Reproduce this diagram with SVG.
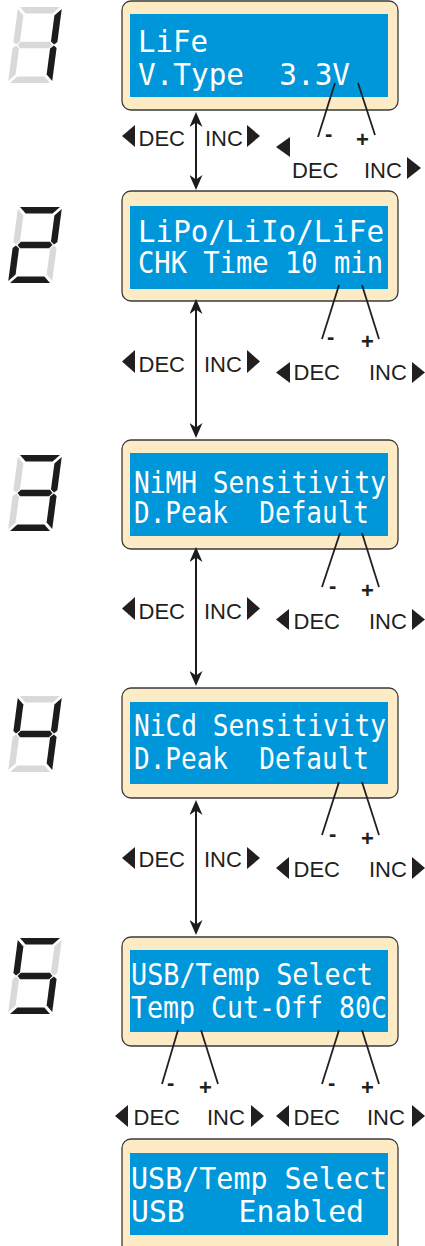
<svg xmlns="http://www.w3.org/2000/svg" xmlns:xlink="http://www.w3.org/1999/xlink" width="425" height="1246" viewBox="0 0 425 1246">
  <style>
    .bezel{fill:#FCEBC4;stroke:#3a3a3a;stroke-width:1.3}
    .lcd{fill:#0096DA}
    .lcdtxt{font-family:"DejaVu Sans Mono","Liberation Mono",monospace;font-size:30px;fill:#ffffff;white-space:pre}
    .lbl{font-family:"Liberation Sans",Arial,sans-serif;font-size:22px;fill:#231F20}
    .sign{font-family:"Liberation Sans",Arial,sans-serif;font-size:22px;font-weight:bold;fill:#231F20}
    .tri{fill:#231F20}
    .on{fill:#1c1c1c}
    .off{fill:#d9d9d9}
    .arrow{stroke:#1c1c1c;stroke-width:2;fill:none;marker-start:url(#ah);marker-end:url(#ah)}
    .lead{stroke:#231F20;stroke-width:1.8;fill:none}
  </style>
  <defs>
    <marker id="ah" viewBox="0 0 15 13" refX="13" refY="6.5" markerWidth="15" markerHeight="13" markerUnits="userSpaceOnUse" orient="auto-start-reverse">
      <path d="M15,6.5 L0,0 L4.5,6.5 L0,13 Z" fill="#1c1c1c"/>
    </marker>
    <!-- seven-segment pieces, upright, 44 x 76 -->
    <polygon id="sa" points="2,0 42,0 35.5,6.5 8.5,6.5"/>
    <polygon id="sb" points="44,2 44,35 41,37.5 37.5,34.5 37.5,8.5"/>
    <polygon id="sc" points="44,41 41,38.5 37.5,41.5 37.5,67.5 44,74"/>
    <polygon id="sd" points="2,76 42,76 35.5,69.5 8.5,69.5"/>
    <polygon id="se" points="0,41 3,38.5 6.5,41.5 6.5,67.5 0,74"/>
    <polygon id="sf" points="0,2 6.5,8.5 6.5,34.5 3,37.5 0,35"/>
    <polygon id="sg" points="4.5,38 7.5,34.8 36.5,34.8 39.5,38 36.5,41.2 7.5,41.2"/>
  </defs>

  <!-- step digits -->
  <g id="digit1" transform="translate(18,7) skewX(-7.5)">
    <use xlink:href="#sa" class="off"/><use xlink:href="#sb" class="on"/><use xlink:href="#sc" class="on"/>
    <use xlink:href="#sd" class="off"/><use xlink:href="#se" class="off"/><use xlink:href="#sf" class="off"/><use xlink:href="#sg" class="off"/>
  </g>
  <g id="digit2" transform="translate(18,207) skewX(-7.5)">
    <use xlink:href="#sa" class="on"/><use xlink:href="#sb" class="on"/><use xlink:href="#sc" class="off"/>
    <use xlink:href="#sd" class="on"/><use xlink:href="#se" class="on"/><use xlink:href="#sf" class="off"/><use xlink:href="#sg" class="on"/>
  </g>
  <g id="digit3" transform="translate(18,455) skewX(-7.5)">
    <use xlink:href="#sa" class="on"/><use xlink:href="#sb" class="on"/><use xlink:href="#sc" class="on"/>
    <use xlink:href="#sd" class="on"/><use xlink:href="#se" class="off"/><use xlink:href="#sf" class="off"/><use xlink:href="#sg" class="on"/>
  </g>
  <g id="digit4" transform="translate(18,696) skewX(-7.5)">
    <use xlink:href="#sa" class="off"/><use xlink:href="#sb" class="on"/><use xlink:href="#sc" class="on"/>
    <use xlink:href="#sd" class="off"/><use xlink:href="#se" class="off"/><use xlink:href="#sf" class="on"/><use xlink:href="#sg" class="on"/>
  </g>
  <g id="digit5" transform="translate(18,938) skewX(-7.5)">
    <use xlink:href="#sa" class="on"/><use xlink:href="#sb" class="off"/><use xlink:href="#sc" class="on"/>
    <use xlink:href="#sd" class="on"/><use xlink:href="#se" class="off"/><use xlink:href="#sf" class="on"/><use xlink:href="#sg" class="on"/>
  </g>

  <!-- LCD screens -->
  <g id="screen1">
    <rect class="bezel" x="122" y="1" width="276" height="109" rx="9"/>
    <rect class="lcd" x="130" y="14" width="258" height="83"/>
    <text class="lcdtxt" x="138" y="52" textLength="70" lengthAdjust="spacingAndGlyphs">LiFe</text>
    <text class="lcdtxt" x="138" y="85" textLength="212" lengthAdjust="spacingAndGlyphs">V.Type  3.3V</text>
  </g>
  <g id="screen2">
    <rect class="bezel" x="122" y="191" width="276" height="110" rx="9"/>
    <rect class="lcd" x="130" y="206" width="258" height="83"/>
    <text class="lcdtxt" x="138" y="242" textLength="246" lengthAdjust="spacingAndGlyphs">LiPo/LiIo/LiFe</text>
    <text class="lcdtxt" x="138" y="273" textLength="245" lengthAdjust="spacingAndGlyphs">CHK Time 10 min</text>
  </g>
  <g id="screen3">
    <rect class="bezel" x="122" y="440" width="276" height="109" rx="9"/>
    <rect class="lcd" x="130" y="453" width="258" height="83"/>
    <text class="lcdtxt" x="134" y="493" textLength="252" lengthAdjust="spacingAndGlyphs">NiMH Sensitivity</text>
    <text class="lcdtxt" x="134" y="523" textLength="235" lengthAdjust="spacingAndGlyphs">D.Peak  Default</text>
  </g>
  <g id="screen4">
    <rect class="bezel" x="122" y="688" width="276" height="110" rx="9"/>
    <rect class="lcd" x="130" y="702" width="258" height="82"/>
    <text class="lcdtxt" x="134" y="736" textLength="252" lengthAdjust="spacingAndGlyphs">NiCd Sensitivity</text>
    <text class="lcdtxt" x="134" y="769" textLength="235" lengthAdjust="spacingAndGlyphs">D.Peak  Default</text>
  </g>
  <g id="screen5">
    <rect class="bezel" x="122" y="937" width="276" height="109" rx="9"/>
    <rect class="lcd" x="130" y="950" width="258" height="82"/>
    <text class="lcdtxt" x="131" y="985" textLength="242" lengthAdjust="spacingAndGlyphs">USB/Temp Select</text>
    <text class="lcdtxt" x="131" y="1018" textLength="256" lengthAdjust="spacingAndGlyphs">Temp Cut-Off 80C</text>
  </g>
  <g id="screen6">
    <rect class="bezel" x="122" y="1139" width="276" height="120" rx="9"/>
    <rect class="lcd" x="130" y="1153" width="258" height="82"/>
    <text class="lcdtxt" x="131" y="1189" textLength="256" lengthAdjust="spacingAndGlyphs">USB/Temp Select</text>
    <text class="lcdtxt" x="131" y="1222" textLength="233" lengthAdjust="spacingAndGlyphs">USB   Enabled</text>
  </g>

  <!-- connectors: step arrows and key lead lines -->
  <g id="connectors">
    <line class="arrow" x1="196" y1="114" x2="196" y2="188"/>
    <line class="arrow" x1="196" y1="301" x2="196" y2="436"/>
    <line class="arrow" x1="196" y1="549" x2="196" y2="684"/>
    <line class="arrow" x1="196" y1="802" x2="196" y2="933"/>

    <line class="lead" x1="335" y1="83" x2="318" y2="137"/>
    <line class="lead" x1="358" y1="83" x2="375" y2="135"/>
    <line class="lead" x1="339" y1="285" x2="322" y2="339"/>
    <line class="lead" x1="362" y1="285" x2="379" y2="339"/>
    <line class="lead" x1="340" y1="533" x2="322" y2="587"/>
    <line class="lead" x1="362" y1="533" x2="379" y2="587"/>
    <line class="lead" x1="339" y1="782" x2="322" y2="835"/>
    <line class="lead" x1="362" y1="782" x2="379" y2="835"/>
    <line class="lead" x1="178" y1="1030" x2="162" y2="1084"/>
    <line class="lead" x1="201" y1="1030" x2="218" y2="1084"/>
    <line class="lead" x1="339" y1="1030" x2="322" y2="1084"/>
    <line class="lead" x1="362" y1="1030" x2="379" y2="1084"/>
  </g>

  <!-- key labels -->
  <g id="labels1">
    <polygon class="tri" points="135,125 122,136 135,147"/>
    <text class="lbl" x="138.5" y="146">DEC</text>
    <text class="lbl" x="205" y="146">INC</text>
    <polygon class="tri" points="247,125 260,136 247,147"/>
    <text class="sign" x="325" y="141">-</text>
    <text class="sign" x="356" y="147">+</text>
    <polygon class="tri" points="290,137 276,147 290,157"/>
    <text class="lbl" x="292" y="178">DEC</text>
    <text class="lbl" x="364" y="178">INC</text>
    <polygon class="tri" points="407,157 421,168 407,179"/>
  </g>
  <g id="labels2">
    <polygon class="tri" points="135,350 122,361.5 135,373"/>
    <text class="lbl" x="138.5" y="372">DEC</text>
    <text class="lbl" x="204" y="372">INC</text>
    <polygon class="tri" points="247,350 260,361.5 247,373"/>
    <text class="sign" x="327" y="344">-</text>
    <text class="sign" x="361" y="349">+</text>
    <polygon class="tri" points="290,362 276,372.5 290,383"/>
    <text class="lbl" x="293.5" y="380">DEC</text>
    <text class="lbl" x="369" y="380">INC</text>
    <polygon class="tri" points="412,362 425,372.5 412,383"/>
  </g>
  <g id="labels3">
    <polygon class="tri" points="135,597 122,608.5 135,620"/>
    <text class="lbl" x="138.5" y="619">DEC</text>
    <text class="lbl" x="204" y="619">INC</text>
    <polygon class="tri" points="247,597 260,608.5 247,620"/>
    <text class="sign" x="329" y="593">-</text>
    <text class="sign" x="361" y="598">+</text>
    <polygon class="tri" points="289,609 276,619.5 289,630"/>
    <text class="lbl" x="293.5" y="629">DEC</text>
    <text class="lbl" x="369" y="629">INC</text>
    <polygon class="tri" points="412,609 425,619.5 412,630"/>
  </g>
  <g id="labels4">
    <polygon class="tri" points="135,847 122,858 135,869"/>
    <text class="lbl" x="138.5" y="867">DEC</text>
    <text class="lbl" x="204" y="867">INC</text>
    <polygon class="tri" points="247,847 260,858 247,869"/>
    <text class="sign" x="329" y="841">-</text>
    <text class="sign" x="361" y="846">+</text>
    <polygon class="tri" points="289,857 276,868 289,879"/>
    <text class="lbl" x="293.5" y="877">DEC</text>
    <text class="lbl" x="369" y="877">INC</text>
    <polygon class="tri" points="412,857 425,868 412,879"/>
  </g>
  <g id="labels5">
    <text class="sign" x="167" y="1090">-</text>
    <text class="sign" x="199" y="1095">+</text>
    <text class="sign" x="328" y="1090">-</text>
    <text class="sign" x="361" y="1095">+</text>
    <polygon class="tri" points="128,1105 115,1116 128,1127"/>
    <text class="lbl" x="133.5" y="1125">DEC</text>
    <text class="lbl" x="207" y="1125">INC</text>
    <polygon class="tri" points="251,1105 264,1116 251,1127"/>
    <polygon class="tri" points="289,1105 276,1116 289,1127"/>
    <text class="lbl" x="293.5" y="1125">DEC</text>
    <text class="lbl" x="367" y="1125">INC</text>
    <polygon class="tri" points="412,1105 425,1116 412,1127"/>
  </g>
</svg>
